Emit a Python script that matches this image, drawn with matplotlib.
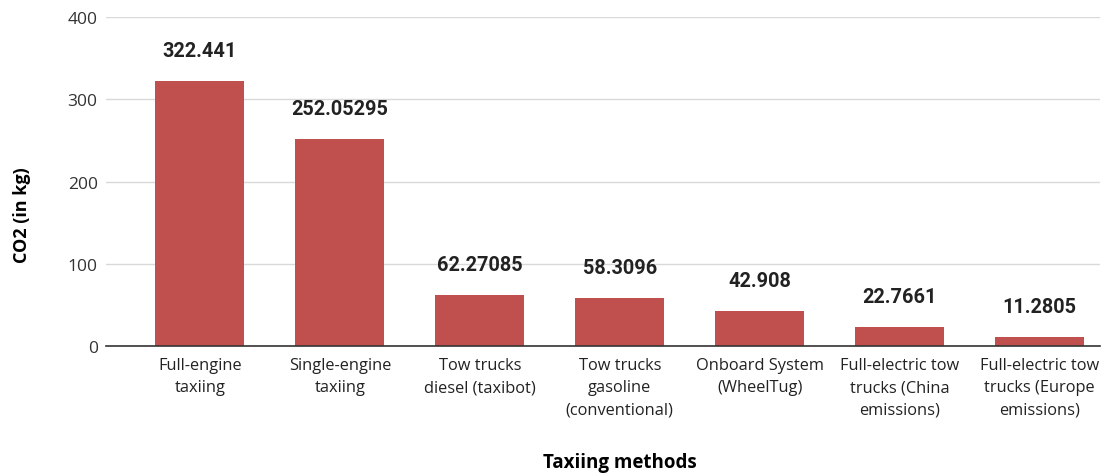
import matplotlib
matplotlib.use("Agg")
import matplotlib.pyplot as plt

categories = ["Full-engine\ntaxiing", "Single-engine\ntaxiing", "Tow trucks\ndiesel (taxibot)",
              "Tow trucks\ngasoline\n(conventional)", "Onboard System\n(WheelTug)",
              "Full-electric tow\ntrucks (China\nemissions)", "Full-electric tow\ntrucks (Europe\nemissions)"]
values = [322.441, 252.05295, 62.27085, 58.3096, 42.908, 22.7661, 11.2805]
labels = ["322.441", "252.05295", "62.27085", "58.3096", "42.908", "22.7661", "11.2805"]
yticks = [0, 100, 200, 300, 400]

fig = plt.figure(figsize=(11.11, 4.77), dpi=100)
ax = fig.add_axes([0.0954, 0.2725, 0.8946, 0.6898])
x = list(range(len(categories)))
bars = ax.bar(x, values, width=0.636, color="#c0504d", zorder=3)
ax.set_xlim(-0.671, 6.43)
ax.set_ylim(0, 400)
ax.set_yticks(yticks)
ax.set_yticklabels([str(t) for t in yticks], fontsize=12.5, family="Open Sans", color="#333333")
ax.set_xticks(x)
ax.set_xticklabels(categories, fontsize=11.8, family="Open Sans", color="#222222", linespacing=1.5)
ax.tick_params(axis="both", length=0)
ax.tick_params(axis="x", pad=8)
ax.tick_params(axis="y", pad=6)
ax.yaxis.grid(True, color="#d9d9d9", linewidth=1, zorder=0)
for s in ["top", "right", "left"]:
    ax.spines[s].set_visible(False)
ax.spines["bottom"].set_color("#333333")
ax.spines["bottom"].set_linewidth(1.2)
ax.spines["bottom"].set_zorder(4)

for xi, v, lab in zip(x, values, labels):
    ax.annotate(lab, (xi, v), xytext=(0, 15), textcoords="offset points",
                ha="center", va="bottom", fontsize=14.3, fontweight="bold",
                family="Roboto", color="#222222")

ax.set_ylabel("CO2 (in kg)", fontsize=13, fontweight="bold", family="Open Sans", va="center")
ax.yaxis.set_label_coords(-0.0845, 0.401)
ax.set_xlabel("Taxiing methods", fontsize=13.5, fontweight="bold", family="Open Sans", va="center")
ax.xaxis.set_label_coords(0.517, -0.353)

fig.savefig("out.png", dpi=100)
